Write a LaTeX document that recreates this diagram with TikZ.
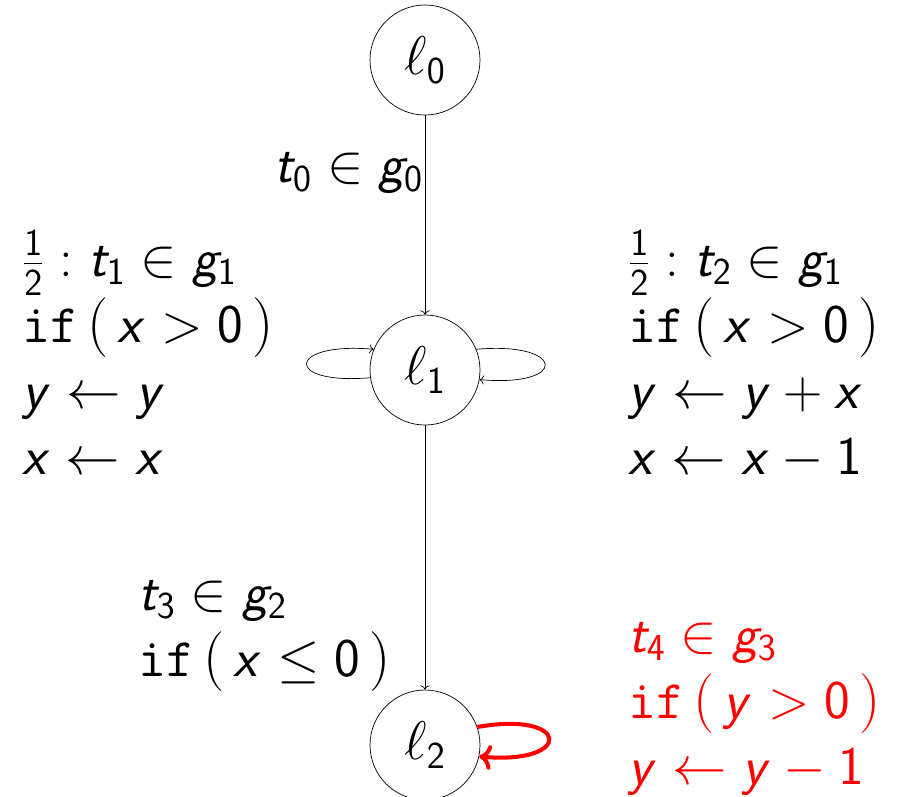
\RequirePackage{fix-cm}
\documentclass[tikz,border=0pt]{standalone}
\usetikzlibrary{arrows.meta}
% sans letters and digits in math, cm symbols kept
\DeclareSymbolFont{sfletters}{OT1}{cmss}{m}{sl}
\DeclareSymbolFont{sfdigits}{OT1}{cmss}{m}{n}
\DeclareMathSymbol{x}{\mathalpha}{sfletters}{`x}
\DeclareMathSymbol{y}{\mathalpha}{sfletters}{`y}
\DeclareMathSymbol{t}{\mathalpha}{sfletters}{`t}
\DeclareMathSymbol{g}{\mathalpha}{sfletters}{`g}
\DeclareMathSymbol{0}{\mathalpha}{sfdigits}{`0}
\DeclareMathSymbol{1}{\mathalpha}{sfdigits}{`1}
\DeclareMathSymbol{2}{\mathalpha}{sfdigits}{`2}
\DeclareMathSymbol{3}{\mathalpha}{sfdigits}{`3}
\DeclareMathSymbol{4}{\mathalpha}{sfdigits}{`4}
\newcommand{\bigtext}{\fontsize{31}{37.5}\selectfont}
\newcommand{\tallpar}[1]{\mbox{\fontsize{34}{36}\selectfont#1}}
\newcommand{\cond}[1]{\texttt{if}\,\tallpar{(}\,#1\,\tallpar{)}}
\tikzset{
  state/.style={circle, draw, minimum size=2.2cm, inner sep=0pt, font=\bigtext},
  lbl/.style={anchor=north west, inner sep=0pt, align=left, font=\bigtext},
}
\begin{document}
\begin{tikzpicture}
	\useasboundingbox (0,0) rectangle (17.94,-15.92);
	% locations
	\node[state] (l0) at (8.5,-1.2) {$\ell_0$};
	\node[state] (l1) at (8.5,-7.4) {$\ell_1$};
	\node[state] (l2) at (8.5,-14.9) {$\ell_2$};
	% transitions
	\draw[->] (l0) -- node[left, pos=0.29, inner sep=1pt, font=\bigtext] (e0) {$t_0 \in g_0$} (l1);
	\draw[->] (l1) -- (l2);
	\draw[->] (l1.188) .. controls +(185:1.75) and +(175:1.75) .. (l1.158);
	\draw[->] (l1.22) .. controls +(5:1.8) and +(-5:1.8) .. (l1.-10);
	\draw[-{To[length=7pt,width=14pt]}, color=red, line width=2.3pt] (l2.19) .. controls +(10:1.9) and +(-5:1.9) .. (l2.-12);
	% guards and updates
	\node[lbl] (p1) at (0.44,-4.6) {$\frac12 : t_1 \in g_1$\\ $\cond{x > 0}$\\ $y \leftarrow y$\\ $x \leftarrow x$};
	\node[lbl] (p2) at (12.56,-4.6) {$\frac12 : t_2 \in g_1$\\ $\cond{x > 0}$\\ $y \leftarrow y + x$\\ $x \leftarrow x - 1$};
	\node[lbl] (p3) at (2.76,-11.6) {$t_3 \in g_2$\\ $\cond{x \le 0}$};
	\node[lbl, text=red] (p4) at (12.56,-12.44) {$t_4 \in g_3$\\ $\cond{y > 0}$\\ $y \leftarrow y - 1$};
\end{tikzpicture}
\end{document}
